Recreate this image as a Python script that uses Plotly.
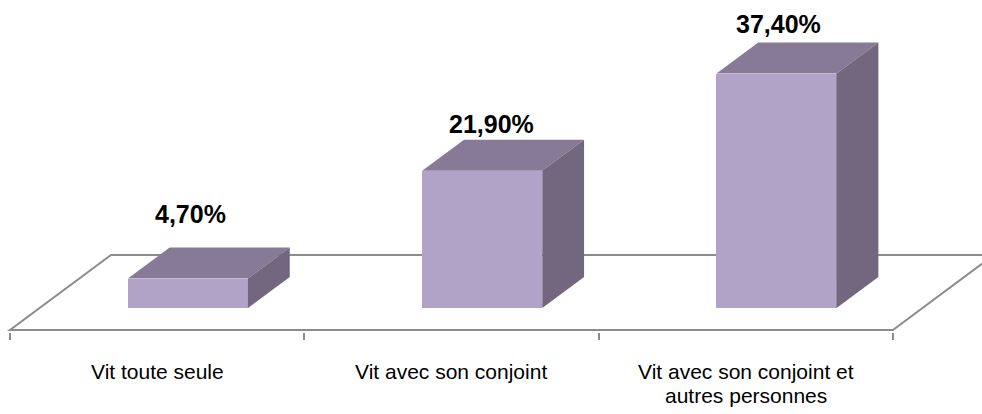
import plotly.graph_objects as go

# ---- data ----
categories = ["Vit toute seule", "Vit avec son conjoint", "Vit avec son conjoint et<br>autres personnes"]
values = [4.7, 21.9, 37.4]
value_labels = ["4,70%", "21,90%", "37,40%"]

# ---- style / geometry ----
W, H = 982, 414
PX_PER_CAT = 294.3          # pixels per category slot
PX_PER_UNIT = 6.27          # pixels per value unit
X0_PX = 10                  # left edge of floor front
Y0_PX = 330                 # floor front line
DEPTH_DX = 101 / PX_PER_CAT # depth projection in x (category units)
DEPTH_DY = 75 / PX_PER_UNIT # depth projection in y (value units)
BAR_X0, BAR_X1 = 0.30, 0.708
D0, D1 = 0.293, 0.707

FRONT = "#B1A3C8"
TOP = "#877A96"
SIDE = "#73677F"
GRID = "#8C8C8C"
FONT = "Liberation Sans, Arial, sans-serif"

def proj(x, v, d):
    return x + DEPTH_DX * d, v + DEPTH_DY * d

fig = go.Figure()

n = len(categories)
# front faces as bars
centers = [i + (BAR_X0 + BAR_X1) / 2 + DEPTH_DX * D0 for i in range(n)]
fig.add_trace(go.Bar(x=centers, y=values, base=DEPTH_DY * D0,
                     width=BAR_X1 - BAR_X0, marker=dict(color=FRONT, line=dict(width=0)),
                     hoverinfo="skip", showlegend=False))

# top and side faces
for i, v in enumerate(values):
    xa, xb = i + BAR_X0, i + BAR_X1
    top = [proj(xa, v, D0), proj(xb, v, D0), proj(xb, v, D1), proj(xa, v, D1), proj(xa, v, D0)]
    side = [proj(xb, 0, D0), proj(xb, v, D0), proj(xb, v, D1), proj(xb, 0, D1), proj(xb, 0, D0)]
    for pts, col in ((top, TOP), (side, SIDE)):
        fig.add_trace(go.Scatter(x=[p[0] for p in pts], y=[p[1] for p in pts], mode="lines",
                                 fill="toself", fillcolor=col, line=dict(width=0, color=col),
                                 hoverinfo="skip", showlegend=False))

# floor outline
fl = [proj(0, 0, 0), proj(n, 0, 0), proj(n, 0, 1), proj(0, 0, 1)]
path = "M " + " L ".join(f"{x},{y}" for x, y in fl) + " Z"
fig.add_shape(type="path", path=path, xref="x", yref="y", layer="below",
              line=dict(color=GRID, width=2))

# value labels
xshift = [3, 9, 2]
yshift = [65, 47, 50]
for i, (v, lab) in enumerate(zip(values, value_labels)):
    fig.add_annotation(x=centers[i], y=v + DEPTH_DY * D0, text=f"<b>{lab}</b>", showarrow=False,
                       xref="x", yref="y", yanchor="middle", xshift=xshift[i], yshift=yshift[i],
                       font=dict(family=FONT, size=25, color="#000"))

# category labels (one annotation per line)
for i, cat in enumerate(categories):
    for j, line in enumerate(cat.split("<br>")):
        fig.add_annotation(x=i + 0.5, y=0, text=line, showarrow=False, xref="x", yref="y",
                           yanchor="middle", yshift=-41 - 24 * j,
                           font=dict(family=FONT, size=21, color="#000"))

x_lo = -X0_PX / PX_PER_CAT
x_hi = (W - X0_PX) / PX_PER_CAT
plot_bottom_px = 332
y_lo = -(plot_bottom_px - Y0_PX) / PX_PER_UNIT
y_hi = Y0_PX / PX_PER_UNIT

fig.update_layout(
    width=W, height=H, margin=dict(l=0, r=0, t=0, b=H - plot_bottom_px),
    paper_bgcolor="white", plot_bgcolor="white", bargap=0,
    xaxis=dict(range=[x_lo, x_hi], tickvals=list(range(n + 1)), ticks="outside", ticklen=7,
               tickwidth=2, tickcolor=GRID, showticklabels=False, showgrid=False,
               zeroline=False, showline=False, fixedrange=True),
    yaxis=dict(range=[y_lo, y_hi], visible=False, showgrid=False, zeroline=False, fixedrange=True),
)

fig.write_html("out.html", config={"displayModeBar": False},
               post_script="document.body.style.margin='0';document.body.style.overflow='hidden';")
